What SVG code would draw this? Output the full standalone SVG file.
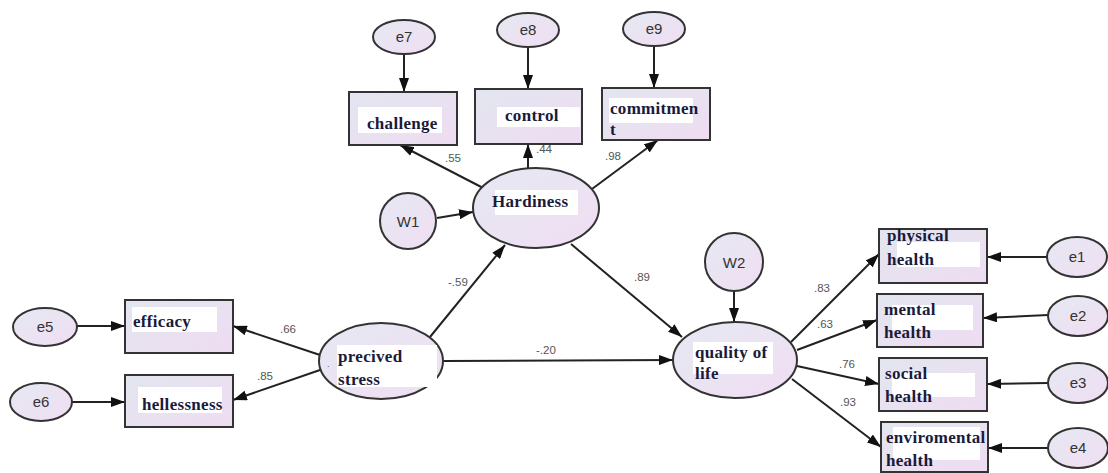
<svg xmlns="http://www.w3.org/2000/svg" width="1108" height="473" viewBox="0 0 1108 473">
<defs>
<linearGradient id="gb" x1="0" y1="0" x2="1" y2="1"><stop offset="0" stop-color="#e2e6ef"/><stop offset="1" stop-color="#efdcf2"/></linearGradient>
<linearGradient id="ge" x1="0" y1="0" x2="1" y2="1"><stop offset="0" stop-color="#e6e8f2"/><stop offset="1" stop-color="#f0def3"/></linearGradient>
<marker id="ar" viewBox="0 0 14 10" refX="14" refY="5" markerWidth="14" markerHeight="10" markerUnits="userSpaceOnUse" orient="auto"><path d="M0,0 L14,5 L0,10 z" fill="#111"/></marker>
<style>
.bx{fill:url(#gb);stroke:#333;stroke-width:2}
.el{fill:url(#ge);stroke:#333;stroke-width:2}
.wb{fill:#fff}
.bt{font-family:"Liberation Serif",serif;font-weight:bold;font-size:17px;letter-spacing:0.3px;fill:#1a1a3a}
.et{font-family:"Liberation Sans",sans-serif;font-size:15px;fill:#333;text-anchor:middle}
.lb{font-family:"Liberation Sans",sans-serif;font-size:11.5px;fill:#555}
.cn{stroke:#222;stroke-width:2;fill:none;marker-end:url(#ar)}
</style>
</defs>
<rect width="1108" height="473" fill="#fff"/>
<g id="connectors">
<line class="cn" x1="404" y1="53" x2="404" y2="92"/>
<line class="cn" x1="528" y1="47" x2="528" y2="89"/>
<line class="cn" x1="654" y1="45" x2="654" y2="88"/>
<line class="cn" x1="487" y1="190" x2="400" y2="145"/>
<line class="cn" x1="528" y1="168" x2="528" y2="144"/>
<line class="cn" x1="592" y1="189" x2="658" y2="140"/>
<line class="cn" x1="437" y1="218" x2="473" y2="212"/>
<line class="cn" x1="430" y1="337" x2="505" y2="245"/>
<line class="cn" x1="571" y1="244" x2="682" y2="337"/>
<line class="cn" x1="443" y1="361" x2="673" y2="360"/>
<line class="cn" x1="320" y1="355" x2="233" y2="326"/>
<line class="cn" x1="320" y1="370" x2="233" y2="400"/>
<line class="cn" x1="77" y1="326" x2="125" y2="326"/>
<line class="cn" x1="72" y1="402" x2="125" y2="402"/>
<line class="cn" x1="734" y1="291" x2="734" y2="322"/>
<line class="cn" x1="791" y1="342" x2="879" y2="254"/>
<line class="cn" x1="797" y1="350" x2="877" y2="320"/>
<line class="cn" x1="797" y1="366" x2="879" y2="384"/>
<line class="cn" x1="792" y1="379" x2="881" y2="447"/>
<line class="cn" x1="1047" y1="257" x2="987" y2="257"/>
<line class="cn" x1="1048" y1="315" x2="983" y2="318"/>
<line class="cn" x1="1048" y1="383" x2="987" y2="384"/>
<line class="cn" x1="1048" y1="448" x2="988" y2="448"/>
<text class="lb" x="445" y="162">.55</text>
<text class="lb" x="536" y="153">.44</text>
<text class="lb" x="605" y="160">.98</text>
<text class="lb" x="448" y="286">-.59</text>
<text class="lb" x="634" y="281">.89</text>
<text class="lb" x="536" y="354">-.20</text>
<text class="lb" x="280" y="333">.66</text>
<text class="lb" x="257" y="380">.85</text>
<text class="lb" x="814" y="292">.83</text>
<text class="lb" x="817" y="328">.63</text>
<text class="lb" x="839" y="368">.76</text>
<text class="lb" x="840" y="406">.93</text>
</g>
<g id="e7"><ellipse class="el" cx="404" cy="37" rx="31" ry="17"/><text class="et" x="404" y="42">e7</text></g>
<g id="e8"><ellipse class="el" cx="528" cy="30" rx="31" ry="17"/><text class="et" x="528" y="35">e8</text></g>
<g id="e9"><ellipse class="el" cx="654" cy="29" rx="31" ry="17"/><text class="et" x="654" y="34">e9</text></g>
<g id="challenge"><rect class="bx" x="349" y="92" width="108" height="53"/><rect class="wb" x="358" y="107" width="84" height="26"/><text class="bt" x="367" y="129">challenge</text></g>
<g id="control"><rect class="bx" x="475" y="89" width="107" height="55"/><rect class="wb" x="497" y="107" width="83" height="20"/><text class="bt" x="505" y="121">control</text></g>
<g id="commitment"><rect class="bx" x="602" y="88" width="108" height="52"/><rect class="wb" x="609" y="98" width="84" height="25"/><text class="bt" x="610" y="114">commitmen</text><text class="bt" x="610" y="135">t</text></g>
<g id="hardiness"><ellipse class="el" cx="536" cy="208" rx="63" ry="40"/><rect class="wb" x="495" y="190" width="83" height="25"/><text class="bt" x="492" y="207">Hardiness</text></g>
<g id="W1"><circle class="el" cx="408" cy="221" r="28"/><text class="et" x="408" y="227">W1</text></g>
<g id="stress"><ellipse class="el" cx="381" cy="361" rx="62" ry="38"/><rect class="wb" x="337" y="345" width="100" height="42"/><text class="lb" x="327" y="367" style="font-size:9px">.</text><text class="bt" x="338" y="362">precived</text><text class="bt" x="338" y="385">stress</text></g>
<g id="efficacy"><rect class="bx" x="125" y="300" width="108" height="53"/><rect class="wb" x="132" y="307" width="85" height="25"/><text class="bt" x="133" y="327">efficacy</text></g>
<g id="hellessness"><rect class="bx" x="125" y="375" width="108" height="52"/><rect class="wb" x="138" y="387" width="84" height="26"/><text class="bt" x="142" y="410">hellessness</text></g>
<g id="e5"><ellipse class="el" cx="45" cy="327" rx="32" ry="19"/><text class="et" x="45" y="332">e5</text></g>
<g id="e6"><ellipse class="el" cx="41" cy="402" rx="31" ry="19"/><text class="et" x="41" y="407">e6</text></g>
<g id="qol"><ellipse class="el" cx="735" cy="360" rx="62" ry="38"/><rect class="wb" x="693" y="342" width="80" height="32"/><text class="bt" x="695" y="358">quality of</text><text class="bt" x="695" y="379">life</text></g>
<g id="W2"><circle class="el" cx="734" cy="262" r="29"/><text class="et" x="734" y="268">W2</text></g>
<g id="physical"><rect class="bx" x="879" y="229" width="108" height="54"/><rect class="wb" x="897" y="242" width="83" height="25"/><text class="bt" x="887" y="241">physical</text><text class="bt" x="887" y="265">health</text></g>
<g id="mental"><rect class="bx" x="877" y="294" width="106" height="53"/><rect class="wb" x="892" y="305" width="81" height="25"/><text class="bt" x="884" y="315">mental</text><text class="bt" x="884" y="338">health</text></g>
<g id="social"><rect class="bx" x="879" y="358" width="108" height="53"/><rect class="wb" x="892" y="373" width="83" height="24"/><text class="bt" x="885" y="379">social</text><text class="bt" x="885" y="402">health</text></g>
<g id="enviromental"><rect class="bx" x="881" y="422" width="107" height="50"/><rect class="wb" x="893" y="427" width="87" height="33"/><text class="bt" x="886" y="443">enviromental</text><text class="bt" x="886" y="466">health</text></g>
<g id="e1"><ellipse class="el" cx="1077" cy="257" rx="30" ry="20"/><text class="et" x="1077" y="262">e1</text></g>
<g id="e2"><ellipse class="el" cx="1078" cy="316" rx="30" ry="20"/><text class="et" x="1078" y="321">e2</text></g>
<g id="e3"><ellipse class="el" cx="1078" cy="383" rx="30" ry="20"/><text class="et" x="1078" y="388">e3</text></g>
<g id="e4"><ellipse class="el" cx="1078" cy="448" rx="30" ry="20"/><text class="et" x="1078" y="453">e4</text></g>
</svg>
